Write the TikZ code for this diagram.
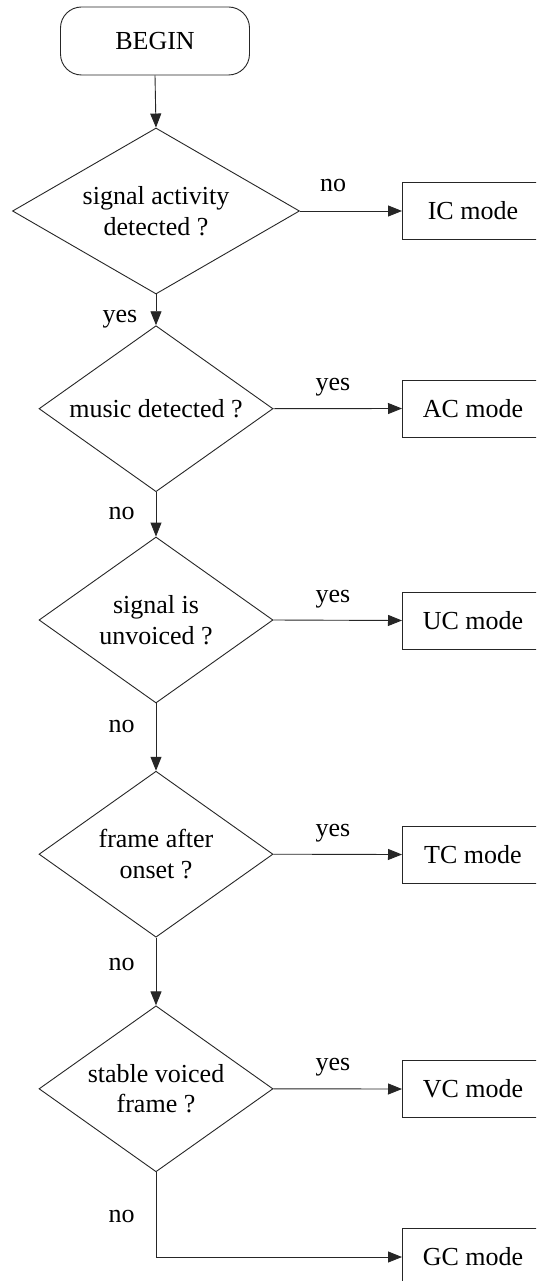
\documentclass[tikz,border=0pt]{standalone}
\usepackage{fontspec}
\setmainfont{Liberation Serif}
\usetikzlibrary{shapes.geometric,arrows.meta}
\begin{document}
\begin{tikzpicture}[x=1pt,y=-1pt,
  every node/.style={font=\fontsize{26}{30.5}\selectfont},
  line/.style={line width=0.9pt, draw=black!85},
  arr/.style={line, -{Triangle[length=14pt,width=11pt]}},
  term/.style={line, rectangle, rounded corners=21pt, minimum width=189pt, minimum height=68pt, inner sep=0pt},
  dec/.style={line, diamond, shape aspect=1.41, minimum width=234pt, minimum height=166pt, inner sep=0pt, align=center},
  modebox/.style={line, rectangle, minimum width=141pt, minimum height=57pt, inner sep=0pt, anchor=west},
  lbl/.style={anchor=base, inner sep=0pt}
]
\clip (0,0) rectangle (536,1281);
\fill[white] (0,0) rectangle (536,1281);

\node[term] (begin) at (155,41) {BEGIN};

\node[dec, shape aspect=1.73, minimum width=287pt] (d1) at (156,211) {signal activity\\detected ?};
\node[dec] (d2) at (156,408.7) {music detected ?};
\node[dec] (d3) at (156,620) {signal is\\unvoiced ?};
\node[dec] (d4) at (156,854.2) {frame after\\onset ?};
\node[dec] (d5) at (156,1088.8) {stable voiced\\frame ?};

\node[modebox] (ic) at (402,211) {IC mode};
\node[modebox] (ac) at (402,408.5) {AC mode};
\node[modebox] (uc) at (402,620.5) {UC mode};
\node[modebox] (tc) at (402,854.5) {TC mode};
\node[modebox] (vc) at (402,1089) {VC mode};
\node[modebox] (gc) at (402,1257) {GC mode};

\draw[arr] (begin.south) -- (d1.north);
\draw[arr] (d1.south) -- (d2.north);
\draw[arr] (d2.south) -- (d3.north);
\draw[arr] (d3.south) -- (d4.north);
\draw[arr] (d4.south) -- (d5.north);

\draw[arr] (d1.east) -- (ic.west);
\draw[arr] (d2.east) -- (ac.west);
\draw[arr] (d3.east) -- (uc.west);
\draw[arr] (d4.east) -- (tc.west);
\draw[arr] (d5.east) -- (vc.west);
\draw[arr] (d5.south) |- (gc.west);

\node[lbl] (l1) at (333,192) {no};
\node[lbl] (l2) at (333,390) {yes};
\node[lbl] (l3) at (333,602) {yes};
\node[lbl] (l4) at (333,836) {yes};
\node[lbl] (l5) at (333,1070) {yes};

\node[lbl] (m1) at (120,322) {yes};
\node[lbl] (m2) at (121.5,519) {no};
\node[lbl] (m3) at (121.5,732) {no};
\node[lbl] (m4) at (121.5,970) {no};
\node[lbl] (m5) at (121.5,1222) {no};
\end{tikzpicture}
\end{document}
